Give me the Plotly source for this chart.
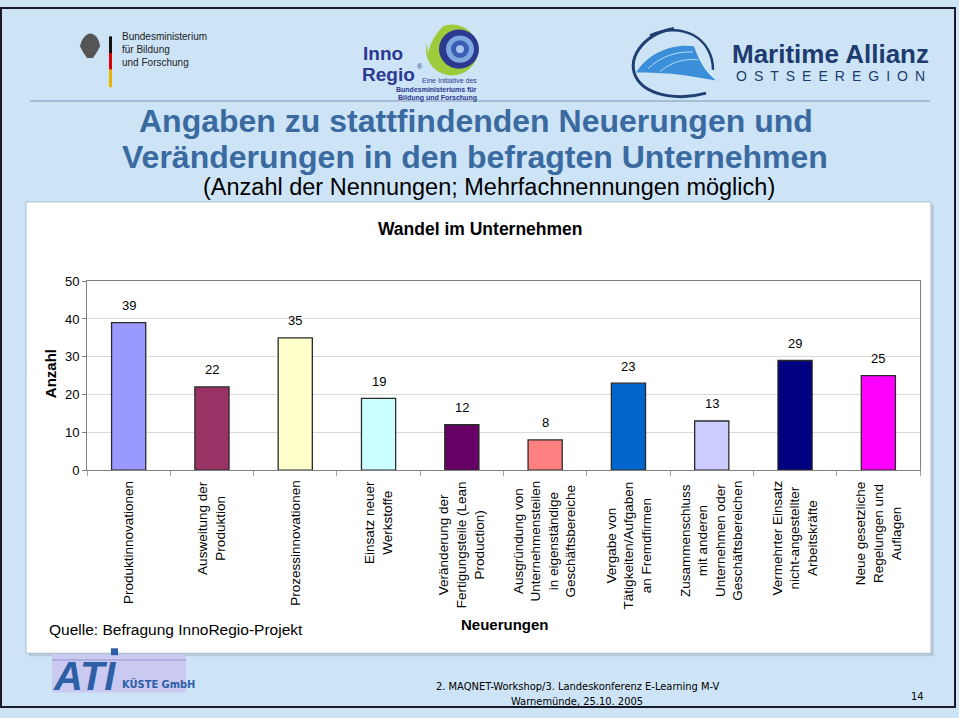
import re
import plotly.graph_objects as go

W, H = 959, 718


def px(x):
    return x / W


def py(y):
    return 1 - y / H


# ---------------- data ----------------
categories = [
    "Produktinnovationen",
    "Ausweitung der<br>Produktion",
    "Prozessinnovationen",
    "Einsatz neuer<br>Werkstoffe",
    "Veränderung der<br>Fertigungsteile (Lean<br>Production)",
    "Ausgründung von<br>Unternehmensteilen<br>in eigenständige<br>Geschäftsbereiche",
    "Vergabe von<br>Tätigkeiten/Aufgaben<br>an Fremdfirmen",
    "Zusammenschluss<br>mit anderen<br>Unternehmen oder<br>Geschäftsbereichen",
    "Vermehrter Einsatz<br>nicht-angestellter<br>Arbeitskräfte",
    "Neue gesetzliche<br>Regelungen und<br>Auflagen",
]
values = [39, 22, 35, 19, 12, 8, 23, 13, 29, 25]
colors = ["#9999FF", "#993366", "#FFFFCC", "#CCFFFF", "#660066",
          "#FF8080", "#0066CC", "#CCCCFF", "#000080", "#FF00FF"]
y_ticks = [0, 10, 20, 30, 40, 50]

FONT = "Liberation Sans, Arial, sans-serif"
NARROW = "Liberation Sans Narrow, Arial Narrow, DejaVu Sans Condensed, Liberation Sans, Arial, sans-serif"
BG = "#cde4f6"
TITLE_BLUE = "#3a6aa0"

fig = go.Figure()
fig.add_trace(go.Bar(
    x=categories, y=values,
    marker=dict(color=colors, line=dict(color="#2a2a2a", width=1.3)),
    width=0.41, hoverinfo="skip", showlegend=False,
))

annotations = []
# value labels
for c, v in zip(categories, values):
    annotations.append(dict(x=c, y=v, xref="x", yref="y", text=str(v),
                            showarrow=False, yshift=17, yanchor="middle",
                            font=dict(size=13, color="#000", family=FONT)))
# category labels (rotated, centred lines)
for c in categories:
    annotations.append(dict(x=c, y=py(482), xref="x", yref="paper", text=c,
                            showarrow=False, textangle=-90, yanchor="top",
                            xanchor="center", align="center",
                            font=dict(size=13.5, color="#000", family=FONT)))


def txt(x, y, t, size, color="#000", bold=False, xanchor="center", angle=0,
        align="center", family=FONT, italic=False):
    s = t
    if bold:
        s = "<b>" + s + "</b>"
    if italic:
        s = "<i>" + s + "</i>"
    annotations.append(dict(x=px(x), y=py(y), xref="paper", yref="paper", text=s,
                            showarrow=False, xanchor=xanchor, yanchor="middle",
                            textangle=angle, align=align,
                            font=dict(size=size, color=color, family=family)))


# titles
txt(476, 116, "Angaben zu stattfindenden Neuerungen und", 32, TITLE_BLUE, bold=True)
txt(475, 153, "Veränderungen in den befragten Unternehmen", 32, TITLE_BLUE, bold=True)
txt(489, 184, "(Anzahl der Nennungen; Mehrfachnennungen möglich)", 23.5, "#000")
txt(480, 227, "Wandel im Unternehmen", 17.5, "#000", bold=True)
txt(50, 375, "Anzahl", 15, "#000", bold=True, angle=-90)
txt(505, 631, "Neuerungen", 15, "#000", bold=True)
txt(47, 636, "Quelle: Befragung InnoRegio-Projekt", 15.5, "#000", xanchor="left")

# footer
txt(577, 694, "2. MAQNET-Workshop/3. Landeskonferenz E-Learning M-V", 11, "#000", family=NARROW)
txt(577, 709, "Warnemünde, 25.10. 2005", 11, "#000", family=NARROW)
txt(917, 704, "14", 11, "#000", family=NARROW)

# logos (text parts)
txt(120, 43, "Bundesministerium<br>für Bildung<br>und Forschung", 10, "#222",
    xanchor="left", align="left")
txt(361, 47, "Inno", 19, "#2b3990", bold=True, xanchor="left")
txt(360, 69, "Regio", 19, "#2b3990", bold=True, xanchor="left")
txt(415, 61, "®", 7, "#2b3990", xanchor="left")
txt(479, 75, "Eine Initiative des", 7, "#2b3990", xanchor="right")
txt(479, 84, "<b>Bundesministeriums für</b>", 7, "#2b3990", xanchor="right")
txt(479, 92.5, "<b>Bildung und Forschung</b>", 7, "#2b3990", xanchor="right")
txt(830, 48, "Maritime Allianz", 26, "#1d3b6f", bold=True)
txt(830, 70, "\u2002".join("OSTSEEREGION"), 14, "#1d3b6f")
txt(51, 683, "ATI", 40, "#2d5fa6", bold=True, italic=True, xanchor="left")
txt(120, 691, "KÜSTE GmbH", 11, "#2d5fa6", bold=True, xanchor="left", family=NARROW)

shapes = []


def rect(x0, y0, x1, y1, fill=None, line=None, lw=1, layer="below"):
    shapes.append(dict(type="rect", xref="paper", yref="paper",
                       x0=px(x0), x1=px(x1), y0=py(y1), y1=py(y0),
                       fillcolor=fill if fill else "rgba(0,0,0,0)",
                       line=dict(color=line if line else "rgba(0,0,0,0)", width=lw if line else 0),
                       layer=layer))


def hline(x0, y0, x1, y1, color, lw=1, layer="below"):
    shapes.append(dict(type="line", xref="paper", yref="paper",
                       x0=px(x0), x1=px(x1), y0=py(y0), y1=py(y1),
                       line=dict(color=color, width=lw), layer=layer))


def svgpath(d, fill=None, color=None, lw=0, layer="below"):
    def conv(m):
        a, b = float(m.group(1)), float(m.group(2))
        return f"{px(a):.5f},{py(b):.5f}"
    d2 = re.sub(r"(-?\d+\.?\d*),(-?\d+\.?\d*)", conv, d)
    shapes.append(dict(type="path", xref="paper", yref="paper", path=d2,
                       fillcolor=fill if fill else "rgba(0,0,0,0)",
                       line=dict(color=color if color else "rgba(0,0,0,0)", width=lw),
                       layer=layer))


def circle(cx, cy, r, fill, layer="below"):
    shapes.append(dict(type="circle", xref="paper", yref="paper",
                       x0=px(cx - r), x1=px(cx + r), y0=py(cy + r), y1=py(cy - r),
                       fillcolor=fill, line=dict(width=0), layer=layer))


# slide frame
rect(1, 1, 955, 715, None, "#1a1a28", 2)
hline(30, 96, 930, 96, "#7f98b3", 1.2)
# chart box with shadow
rect(29, 202, 934, 663, "#b7c9da")
rect(26, 199, 931, 660, "#ffffff", "#a9bccd", 1)

# BMBF logo
svgpath("M 80,40 C 82,30 88,27 90,27 C 94,27 99,31 100,40 L 97,46 L 93,52 L 87,52 L 83,46 Z", fill="#555")
rect(109, 30, 112, 47, "#111")
rect(109, 47, 112, 64, "#d00")
rect(109, 64, 112, 82, "#e8b400")

# InnoRegio swirl
circle(452, 44, 26, "#9ccb3b")
circle(459, 43, 20, "#2b3990")
circle(460, 43, 14, "#7fa8e0")
circle(460, 43, 9, "#3c5fb5")
circle(460, 43, 4, "#a9c4ee")
svgpath("M 426,30 C 430,22 438,18 446,17 C 436,26 430,36 428,48 Z", fill=BG)

# Maritime logo
svgpath("M 674,22 C 642,28 624,55 638,75 C 650,92 682,95 706,88", color="#1f3f73", lw=3)
svgpath("M 650,29 C 682,14 713,32 713,64", color="#1f3f73", lw=2.5)
svgpath("M 636,67 C 648,47 672,37 694,40 C 699,55 705,66 716,75 C 690,70 662,66 636,67 Z",
        fill="#3a8fd8")
svgpath("M 648,63 C 660,51 676,45 693,46", color="#b5dbf7", lw=1)
svgpath("M 660,66 C 670,57 684,52 698,54", color="#b5dbf7", lw=1)

# ATI logo box
rect(52, 661, 186, 700, "#c9c9f2")
hline(52, 667, 186, 667, "#a6a6d8", 1.5)
rect(111, 655, 118, 662, "#2d5fa6", layer="above")

fig.update_layout(
    width=W, height=H,
    margin=dict(l=0, r=0, t=0, b=0),
    paper_bgcolor=BG,
    plot_bgcolor="#ffffff",
    font=dict(family=FONT, color="#000"),
    annotations=annotations,
    shapes=shapes,
    xaxis=dict(domain=[px(87), px(920)], showticklabels=False, showline=True,
               linecolor="#808080", linewidth=1, mirror=True, ticks="outside",
               tickson="boundaries", ticklen=5, tickcolor="#a0a0a0", showgrid=False,
               fixedrange=True),
    yaxis=dict(domain=[py(473), py(280)], range=[0, 50], tickvals=y_ticks,
               showline=True, linecolor="#808080", linewidth=1, mirror=True,
               ticks="outside", ticklen=4, tickcolor="#808080",
               gridcolor="#d9d9d9", gridwidth=1, zeroline=False,
               tickfont=dict(size=13, color="#000", family=FONT), fixedrange=True),
)

fig.write_html("out.html", config={"displayModeBar": False},
               post_script="document.body.style.margin='0';document.body.style.overflow='hidden';")
